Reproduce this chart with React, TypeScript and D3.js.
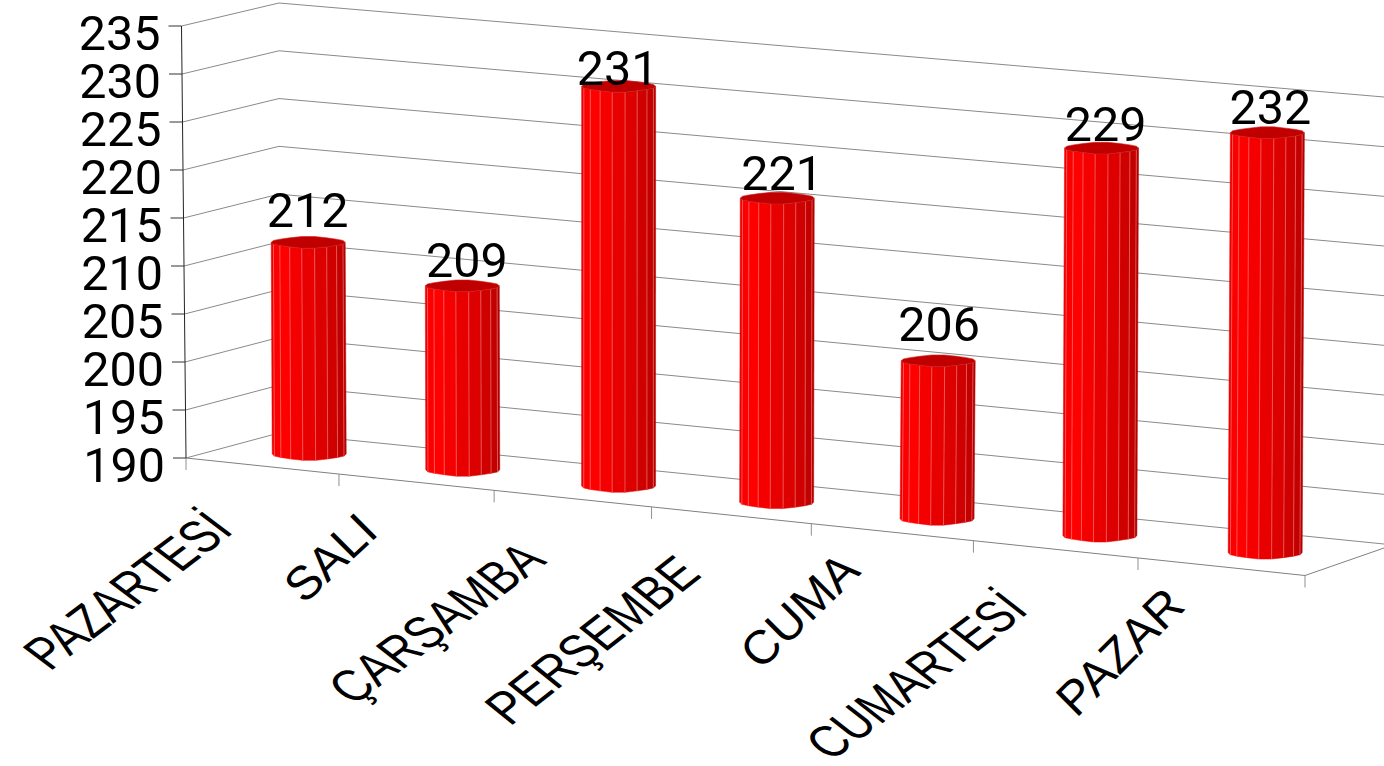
import React from "react";
import * as d3 from "d3";

const categories = ["PAZARTESİ", "SALI", "ÇARŞAMBA", "PERŞEMBE", "CUMA", "CUMARTESİ", "PAZAR"];
const values = [212, 209, 231, 221, 206, 229, 232];
const yTicks = [190, 195, 200, 205, 210, 215, 220, 225, 230, 235];

// small per-label nudges seen in the reference (px)
const labelDx = [-0.5, 4.5, -1, 5, 1, 4, 3];
const labelDy = [15, 9, 1.3, 8, 20, 7, 8.5];
// category label placement: end of baseline, baseline angle, stem angle, along / across stretch
const catEndX = [235, 380, 548, 703, 862, 1030, 1187];
const catEndY = [532, 534, 562, 576, 573, 612, 608];
const catAngle = [37, 43, 36.5, 38, 44, 37, 45];
const catStem = [37, 45, 38, 39, 45, 38, 45];
const catAlong = [0.885, 1, 0.9, 0.92, 1, 0.885, 1];
const catAcross = [1.13, 1, 1.1, 1.1, 1, 1.1, 1];

const W = 1384, H = 766;
const V0 = 190, V1 = 235;
const yFront = d3.scaleLinear().domain([V0, V1]).range([458, 26]);
const xFront = d3.scaleLinear().domain([V0, V1]).range([186, 181.5]);
const yBack = d3.scaleLinear().domain([V0, V1]).range([433, 3]);
const yRight = d3.scaleLinear().domain([V0, V1]).range([544, 97]);
const BACK_X = 279, RIGHT_X = 1384;
const NUM_FONT = "Roboto, 'Liberation Sans', sans-serif";
const NUM_SIZE = 48.5;
const NUM_WEIGHT = 400;

const n = categories.length;
const K = -0.05;
const xCat = (u: number) => {
  const t = u / n;
  return d3.scaleLinear().domain([0, 1]).range([186, 1305])((t * (1 + K)) / (1 + K * t));
};
const yFloor = d3.scaleLinear().domain([186, 1305]).range([458, 575.5]);
const colour = d3.scaleLinear<string>().domain([0, 0.12, 0.3, 1]).range(["#e80000", "#f80000", "#ff0000", "#b00000"]);
const line = d3.line();
const SIDES = 18;

function Bar({ i }: { i: number }) {
  const t = i / (n - 1);
  const mid = xCat(i + 0.5);
  const cx = mid + d3.interpolateNumber(47, 44)(t);
  const cy = yFloor(mid) - d3.interpolateNumber(12, 14)(t);
  const unit = d3.interpolateNumber(9.62, 10)(t);
  const topY = cy - (values[i] - V0) * unit;
  const topCx = cx + d3.interpolateNumber(-1, 2.2)(t);
  const r = 37;
  const ryB = 6, ryT = 5.5;
  const bump = (a: number) => 1 + 0.1 * Math.cos(4 * a);
  const ptB = (a: number): [number, number] => [cx + r * Math.cos(a), cy + ryB * Math.sin(a) * bump(a)];
  const ptT = (a: number): [number, number] => [topCx + r * Math.cos(a), topY + ryT * Math.sin(a) * bump(a)];
  const angle = (k: number) => Math.PI - (k * 2 * Math.PI) / SIDES;
  const facets = d3.range(SIDES / 2).map((k) => {
    const a = angle(k), b = angle(k + 1);
    return { d: line([ptT(a), ptB(a), ptB(b), ptT(b)])! + "Z", c: colour((k + 0.5) / (SIDES / 2)) };
  });
  const cap = d3.range(SIDES).map((k) => ptT((k * 2 * Math.PI) / SIDES));
  return (
    <g>
      {facets.map((f, k) => (
        <path key={k} d={f.d} fill={f.c} stroke={f.c} strokeWidth={0.5} />
      ))}
      {d3.range(1, SIDES / 2).map((k) => {
        const a = angle(k);
        return <path key={k} d={line([ptT(a), ptB(a)])!} stroke="#ff9a9a" strokeOpacity={0.5} strokeWidth={1} fill="none" />;
      })}
      <path d={line(cap)! + "Z"} fill="#c00000" stroke="#d02020" strokeWidth={0.6} />
      <text x={topCx + labelDx[i]} y={topY - labelDy[i]} fontSize={NUM_SIZE} fontWeight={NUM_WEIGHT} fontFamily={NUM_FONT} textAnchor="middle" fill="#000">
        {values[i]}
      </text>
    </g>
  );
}

function catTransform(i: number) {
  const base = (catAngle[i] * Math.PI) / 180;
  const stem = (catStem[i] * Math.PI) / 180;
  const a = catAlong[i] * Math.cos(base);
  const b = -catAlong[i] * Math.sin(base);
  const c = catAcross[i] * Math.cos(stem);
  const d = catAcross[i] * Math.sin(stem);
  return `matrix(${a} ${b} ${c} ${d} ${catEndX[i]} ${catEndY[i]})`;
}

export default function App() {
  return (
    <svg
      width={W}
      height={H}
      viewBox={`0 0 ${W} ${H}`}
      style={{ position: "fixed", left: 0, top: 0, background: "#fff", fontFamily: "'Liberation Sans', Arial, sans-serif" }}
    >
      {yTicks.map((v) => (
        <path
          key={v}
          d={line([
            [xFront(v), yFront(v)],
            [BACK_X, yBack(v)],
            [RIGHT_X, yRight(v)],
          ])!}
          fill="none"
          stroke="#8a8a8a"
          strokeWidth={1}
        />
      ))}
      {/* floor */}
      <path
        d={line([
          [xCat(0), yFloor(xCat(0))],
          [xCat(n), yFloor(xCat(n))],
          [RIGHT_X, 548],
        ])!}
        fill="none"
        stroke="#808080"
        strokeWidth={1}
      />
      {d3.range(n + 1).map((u) => (
        <line key={u} x1={xCat(u)} x2={xCat(u)} y1={yFloor(xCat(u))} y2={yFloor(xCat(u)) + 12} stroke="#909090" strokeWidth={1} />
      ))}
      {/* value axis */}
      <line x1={xFront(V0)} y1={yFront(V0)} x2={xFront(V1)} y2={yFront(V1)} stroke="#222" strokeWidth={1} />
      {yTicks.map((v) => (
        <g key={v}>
          <line x1={xFront(v) - 13} x2={xFront(v)} y1={yFront(v)} y2={yFront(v)} stroke="#333" strokeWidth={1} />
          <text x={xFront(v) - 21} y={yFront(v) + 23.5} fontSize={NUM_SIZE} fontWeight={NUM_WEIGHT} fontFamily={NUM_FONT} textAnchor="end" fill="#000">
            {v}
          </text>
        </g>
      ))}
      {d3.range(n).map((i) => (
        <Bar key={i} i={i} />
      ))}
      {categories.map((c, i) => (
        <text key={c} transform={catTransform(i)} fontSize={48} textAnchor="end" fill="#000">
          {c}
        </text>
      ))}
    </svg>
  );
}
